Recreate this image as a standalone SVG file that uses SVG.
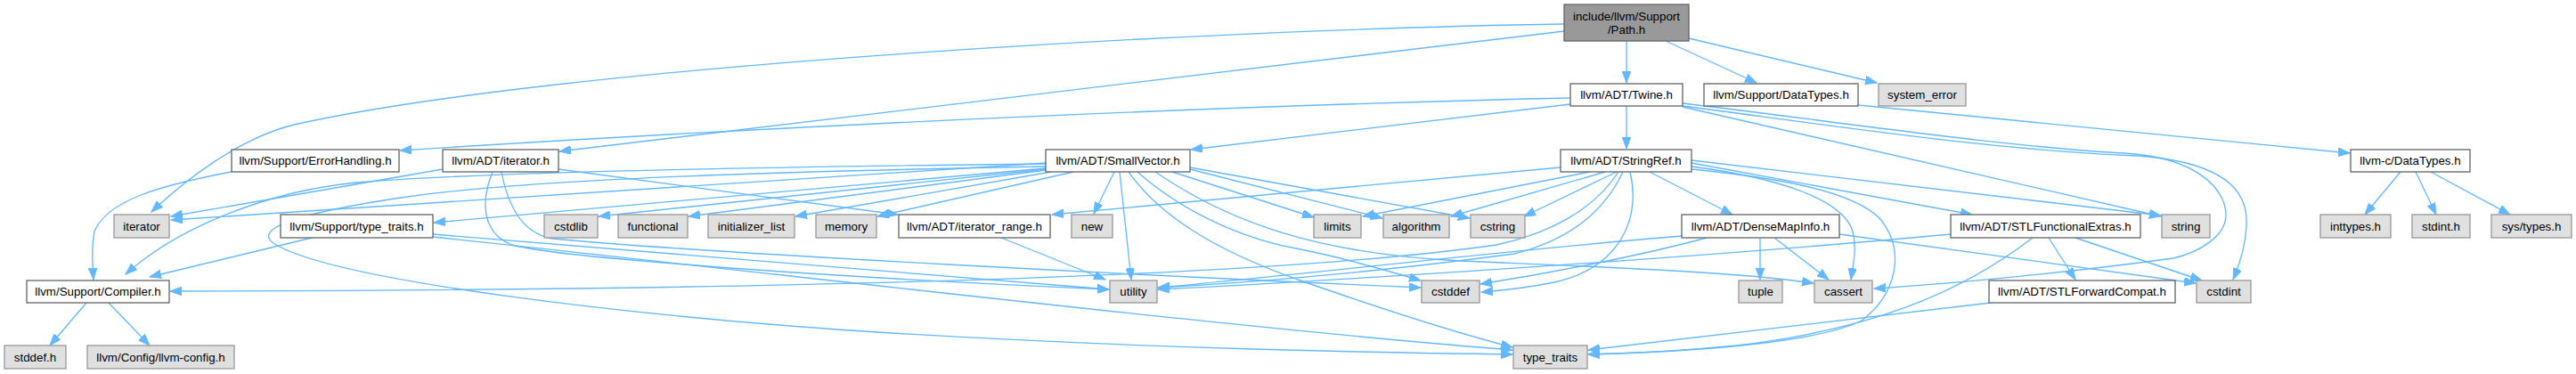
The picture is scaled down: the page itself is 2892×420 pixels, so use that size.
<svg xmlns="http://www.w3.org/2000/svg" width="2892" height="420" viewBox="0 0 2892 420">
<style>
.n rect{fill:#fff;stroke:#666;stroke-width:1.33}
.g rect{fill:#e0e0e0;stroke:#999;stroke-width:1.33}
.r rect{fill:#999;stroke:#666;stroke-width:1.33}
text{font-family:"Liberation Sans",Arial,Helvetica,sans-serif;font-size:13.33px;fill:#000;text-anchor:middle}
#edges path{fill:none;stroke:#63b8ff;stroke-width:1.33;marker-end:url(#a)}
</style>
<defs>
<marker id="a" markerWidth="14" markerHeight="10" refX="13" refY="4.8" orient="auto" markerUnits="userSpaceOnUse">
<path d="M0,0 L13,4.8 L0,9.6 z" fill="#63b8ff" stroke="#63b8ff" stroke-width="1"/>
</marker>
</defs>
<rect width="2892" height="420" fill="#fff"/>
<g id="edges">
<path d="M1756,27 C1350,33 620,75 330,140 C270,155 210,200 170,238"/>
<path d="M1756,35 L628,170"/>
<path d="M1826,46 L1826,93"/>
<path d="M1870,46 L1972,93"/>
<path d="M1896,43 L2107,93"/>
<path d="M1763,110 C1400,118 900,140 449,169"/>
<path d="M1763,117 L1337,168"/>
<path d="M1826,119 L1826,167"/>
<path d="M1889,120 L2426,243"/>
<path d="M1889,116 C2050,135 2250,165 2385,172 C2470,177 2500,215 2499,243 C2498,265 2470,283 2440,290 C2330,305 2200,318 2104,324"/>
<path d="M1889,119 C2050,140 2230,168 2400,175 C2470,180 2520,200 2522,245 C2523,275 2513,300 2507,314"/>
<path d="M2086,118 L2638,172"/>
<path d="M260,193 C180,208 120,225 106,260 C102,280 104,300 105,314"/>
<path d="M497,190 L192,243"/>
<path d="M627,190 L1008,241"/>
<path d="M553,193 C540,225 540,262 575,275 C620,288 900,310 1245,325"/>
<path d="M563,193 C570,230 585,262 620,268 C800,285 1300,310 1595,323"/>
<path d="M1174,184 C800,188 520,195 400,205 C300,215 200,255 141,308"/>
<path d="M1174,183 L192,247"/>
<path d="M1174,189 L487,250"/>
<path d="M1174,190 L672,243"/>
<path d="M1174,191 L773,243"/>
<path d="M1180,193 L893,243"/>
<path d="M1205,193 L985,243"/>
<path d="M1251,193 L1228,240"/>
<path d="M1257,193 L1270,314"/>
<path d="M1174,187 C900,192 600,200 450,222 C330,240 280,258 310,275 C380,315 700,355 1000,374 C1300,392 1550,396 1698,398"/>
<path d="M1316,193 L1475,244"/>
<path d="M1336,190 L1552,245"/>
<path d="M1336,188 L1650,245"/>
<path d="M1277,193 C1330,240 1400,270 1460,280 C1520,292 1560,305 1595,315"/>
<path d="M1267,193 C1300,240 1360,280 1460,315 C1560,350 1640,375 1698,390"/>
<path d="M1297,193 C1380,250 1480,285 1640,293 C1800,300 1950,305 2036,318"/>
<path d="M350,267 L168,311"/>
<path d="M486,263 C800,290 1100,315 1245,325"/>
<path d="M486,266 C900,310 1400,370 1698,393"/>
<path d="M1124,267 L1241,314"/>
<path d="M1752,188 L1181,241"/>
<path d="M1785,193 L1530,243"/>
<path d="M1802,193 L1629,243"/>
<path d="M1815,193 L1711,243"/>
<path d="M1830,193 C1842,245 1820,300 1745,317 C1710,324 1690,326 1663,328"/>
<path d="M1822,193 C1800,240 1760,270 1700,285 C1550,305 1400,318 1300,323"/>
<path d="M1817,193 C1790,235 1740,262 1680,275 C1400,315 800,326 191,327"/>
<path d="M1852,193 L1945,241"/>
<path d="M1899,183 L2214,241"/>
<path d="M1899,180 L2426,242"/>
<path d="M1899,187 C2000,200 2070,225 2080,260 C2085,280 2080,300 2078,314"/>
<path d="M1899,190 C2000,200 2080,215 2110,245 C2140,280 2130,330 2090,360 C2040,385 1900,395 1783,398"/>
<path d="M1976,267 L1976,314"/>
<path d="M1992,267 L2053,314"/>
<path d="M2065,263 L2465,318"/>
<path d="M1888,265 C1700,280 1450,310 1300,323"/>
<path d="M1916,267 C1850,285 1750,305 1662,319"/>
<path d="M2300,267 L2330,314"/>
<path d="M2330,267 L2472,315"/>
<path d="M2282,267 C2200,330 2100,370 1950,388 C1880,395 1830,397 1783,398"/>
<path d="M2190,263 C1900,290 1500,315 1300,325"/>
<path d="M2235,340 L1783,393"/>
<path d="M97,340 L56,388"/>
<path d="M122,340 L168,388"/>
<path d="M2695,193 L2655,241"/>
<path d="M2712,193 L2735,241"/>
<path d="M2729,193 L2818,241"/>
</g>
<g id="n_path" class="r"><rect x="1756" y="5" width="140" height="41"/><text x="1826" y="23">include/llvm/Support</text><text x="1826" y="38">/Path.h</text></g>
<g id="n_twine" class="n"><rect x="1763" y="94" width="126" height="25"/><text x="1826" y="111">llvm/ADT/Twine.h</text></g>
<g id="n_datatypes" class="n"><rect x="1913" y="94" width="173" height="25"/><text x="1999.5" y="111">llvm/Support/DataTypes.h</text></g>
<g id="n_system_error" class="g"><rect x="2109" y="94" width="98" height="25"/><text x="2158" y="111">system_error</text></g>
<g id="n_errorhandling" class="n"><rect x="260" y="168" width="188" height="25"/><text x="354" y="185">llvm/Support/ErrorHandling.h</text></g>
<g id="n_iterator_h" class="n"><rect x="497" y="168" width="130" height="25"/><text x="562" y="185">llvm/ADT/iterator.h</text></g>
<g id="n_smallvector" class="n"><rect x="1174" y="168" width="162" height="25"/><text x="1255" y="185">llvm/ADT/SmallVector.h</text></g>
<g id="n_stringref" class="n"><rect x="1752" y="168" width="147" height="25"/><text x="1825.5" y="185">llvm/ADT/StringRef.h</text></g>
<g id="n_c_datatypes" class="n"><rect x="2639" y="168" width="134" height="25"/><text x="2706" y="185">llvm-c/DataTypes.h</text></g>
<g id="n_iterator" class="g"><rect x="128" y="241" width="62" height="26"/><text x="159" y="259">iterator</text></g>
<g id="n_support_type_traits" class="n"><rect x="315" y="241" width="171" height="26"/><text x="400.5" y="259">llvm/Support/type_traits.h</text></g>
<g id="n_cstdlib" class="g"><rect x="611" y="241" width="60" height="26"/><text x="641" y="259">cstdlib</text></g>
<g id="n_functional" class="g"><rect x="694" y="241" width="78" height="26"/><text x="733" y="259">functional</text></g>
<g id="n_initializer_list" class="g"><rect x="795" y="241" width="97" height="26"/><text x="843.5" y="259">initializer_list</text></g>
<g id="n_memory" class="g"><rect x="916" y="241" width="68" height="26"/><text x="950" y="259">memory</text></g>
<g id="n_iterator_range" class="n"><rect x="1009" y="241" width="170" height="26"/><text x="1094" y="259">llvm/ADT/iterator_range.h</text></g>
<g id="n_new" class="g"><rect x="1203" y="241" width="46" height="26"/><text x="1226" y="259">new</text></g>
<g id="n_limits" class="g"><rect x="1475" y="241" width="53" height="26"/><text x="1501.5" y="259">limits</text></g>
<g id="n_algorithm" class="g"><rect x="1553" y="241" width="74" height="26"/><text x="1590" y="259">algorithm</text></g>
<g id="n_cstring" class="g"><rect x="1651" y="241" width="61" height="26"/><text x="1681.5" y="259">cstring</text></g>
<g id="n_densemapinfo" class="n"><rect x="1888" y="241" width="177" height="26"/><text x="1976.5" y="259">llvm/ADT/DenseMapInfo.h</text></g>
<g id="n_stlfunctionalextras" class="n"><rect x="2190" y="241" width="213" height="26"/><text x="2296.5" y="259">llvm/ADT/STLFunctionalExtras.h</text></g>
<g id="n_string" class="g"><rect x="2427" y="241" width="54" height="26"/><text x="2454" y="259">string</text></g>
<g id="n_inttypes" class="g"><rect x="2605" y="241" width="79" height="26"/><text x="2644.5" y="259">inttypes.h</text></g>
<g id="n_stdint" class="g"><rect x="2708" y="241" width="65" height="26"/><text x="2740.5" y="259">stdint.h</text></g>
<g id="n_systypes" class="g"><rect x="2797" y="241" width="90" height="26"/><text x="2842" y="259">sys/types.h</text></g>
<g id="n_compiler" class="n"><rect x="30" y="315" width="160" height="25"/><text x="110" y="332">llvm/Support/Compiler.h</text></g>
<g id="n_utility" class="g"><rect x="1246" y="315" width="53" height="25"/><text x="1272.5" y="332">utility</text></g>
<g id="n_cstddef" class="g"><rect x="1596" y="315" width="65" height="25"/><text x="1628.5" y="332">cstddef</text></g>
<g id="n_tuple" class="g"><rect x="1952" y="315" width="49" height="25"/><text x="1976.5" y="332">tuple</text></g>
<g id="n_cassert" class="g"><rect x="2037" y="315" width="65" height="25"/><text x="2069.5" y="332">cassert</text></g>
<g id="n_stlforwardcompat" class="n"><rect x="2233" y="315" width="209" height="25"/><text x="2337.5" y="332">llvm/ADT/STLForwardCompat.h</text></g>
<g id="n_cstdint" class="g"><rect x="2466" y="315" width="61" height="25"/><text x="2496.5" y="332">cstdint</text></g>
<g id="n_stddef" class="g"><rect x="5" y="388" width="69" height="26"/><text x="39.5" y="406">stddef.h</text></g>
<g id="n_llvm_config" class="g"><rect x="98" y="388" width="165" height="26"/><text x="180.5" y="406">llvm/Config/llvm-config.h</text></g>
<g id="n_type_traits" class="g"><rect x="1699" y="388" width="83" height="26"/><text x="1740.5" y="406">type_traits</text></g>
</svg>
